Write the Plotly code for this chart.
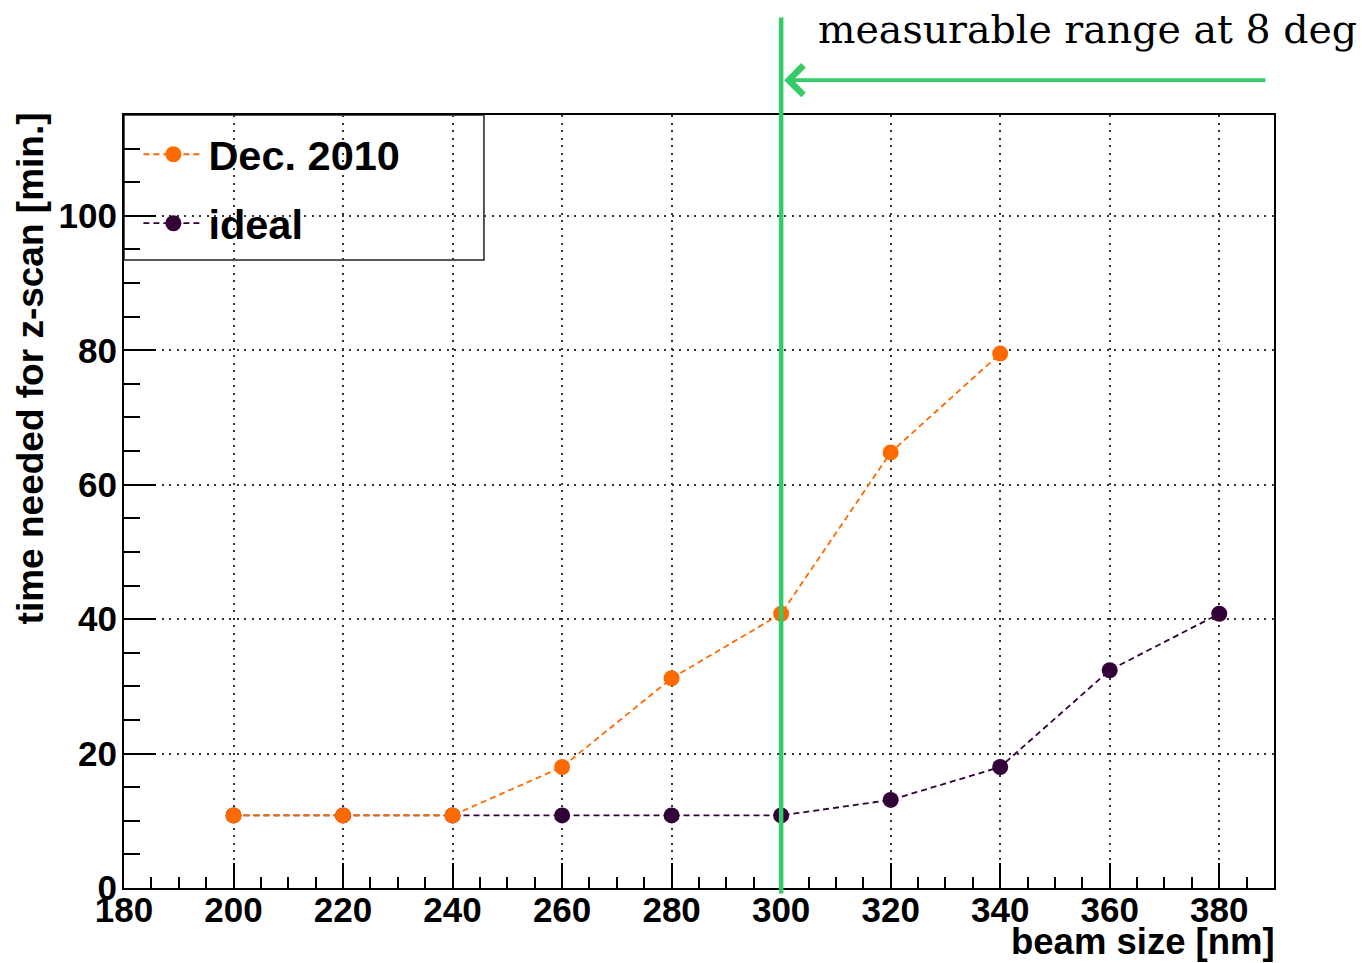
import plotly.graph_objects as go

# beam size scan points [nm]
beam_size_dec = [200, 220, 240, 260, 280, 300, 320, 340]
beam_size_ideal = [200, 220, 240, 260, 280, 300, 320, 340, 360, 380]

# time needed for a z-scan [min.]
time_dec = [10.8, 10.8, 10.8, 18.0, 31.2, 40.8, 64.8, 79.5]
time_ideal = [10.8, 10.8, 10.8, 10.8, 10.8, 10.8, 13.1, 18.0, 32.4, 40.8]

series_names = ["Dec. 2010", "ideal"]
x_ticks = [180, 200, 220, 240, 260, 280, 300, 320, 340, 360, 380]
y_ticks = [0, 20, 40, 60, 80, 100]

# measurable range marker
range_edge = 300
range_arrow_tail = 388.8
range_label = "measurable range at 8 deg"

ORANGE = "#ff6a00"
PURPLE = "#33003a"
GREEN = "#33cc66"
SANS = "Liberation Sans, Arial, sans-serif"

fig = go.Figure()

# "ideal" first so the Dec. 2010 points sit on top where they coincide
fig.add_trace(go.Scatter(
    x=beam_size_ideal, y=time_ideal, name=series_names[1], legendgroup="g2", legendrank=2,
    mode="lines+markers",
    line=dict(color=PURPLE, width=1.8, dash="6px,4px"),
    marker=dict(color=PURPLE, size=16),
))
fig.add_trace(go.Scatter(
    x=beam_size_dec, y=time_dec, name=series_names[0], legendgroup="g1", legendrank=1,
    mode="lines+markers",
    line=dict(color=ORANGE, width=1.8, dash="6px,4px"),
    marker=dict(color=ORANGE, size=16),
))

axis_common = dict(
    showline=True, linecolor="black", linewidth=2, mirror=True,
    ticks="inside", tickcolor="black", tickwidth=1.5,
    showgrid=True, gridcolor="#333333", gridwidth=1.5, griddash="2px,5.5px",
    zeroline=False,
    tickfont=dict(family=SANS, size=35, color="black", weight="bold"),
)

fig.update_xaxes(
    range=[180, 390], tickvals=x_ticks, ticklen=25,
    minor=dict(dtick=5, tick0=180, ticks="inside", ticklen=11, tickcolor="black", tickwidth=1.5, showgrid=False),
    ticklabelstandoff=-10,
    **axis_common,
)
fig.update_yaxes(
    range=[0, 115], tickvals=y_ticks, ticklen=32,
    minor=dict(dtick=5, tick0=0, ticks="inside", ticklen=16, tickcolor="black", tickwidth=1.5, showgrid=False),
    ticklabelstandoff=-2,
    **axis_common,
)

shapes = [
    # legend frame
    dict(type="rect", xref="paper", yref="paper", x0=0, x1=0.313, y0=0.8124, y1=1,
         fillcolor="white", line=dict(color="#222222", width=1.5), layer="between"),
    # measurable range boundary
    dict(type="line", xref="x", yref="paper", x0=range_edge, x1=range_edge,
         y0=-0.007, y1=1.126, line=dict(color=GREEN, width=4.5), layer="above"),
]

annotations = [
    dict(x=range_edge, y=1.045, xref="x", yref="paper",
         ax=range_arrow_tail, ay=0, axref="x", ayref="pixel",
         showarrow=True, arrowhead=4, arrowsize=1.5, arrowwidth=3.8,
         arrowcolor=GREEN, standoff=3, text=" ", font=dict(size=2)),
    dict(x=0.6018, y=1.111, xref="paper", yref="paper", xanchor="left", yanchor="middle",
         text=range_label, showarrow=False,
         font=dict(family="DejaVu Serif, serif", size=39.5, color="black")),
    dict(x=1.003, y=-0.069, xref="paper", yref="paper", xanchor="right", yanchor="middle",
         text="beam size [nm]", showarrow=False,
         font=dict(family=SANS, size=36.5, color="black", weight="bold")),
    dict(x=-0.081, y=0.672, xref="paper", yref="paper", xanchor="center", yanchor="middle",
         text="time needed for z-scan [min.]", textangle=-90, showarrow=False,
         font=dict(family=SANS, size=37, color="black", weight="bold")),
]

fig.update_layout(
    width=1362, height=963,
    margin=dict(l=124, r=88, t=115, b=75),
    paper_bgcolor="white", plot_bgcolor="white",
    shapes=shapes, annotations=annotations,
    showlegend=True,
    legend=dict(
        x=0.0125, y=0.9925, xanchor="left", yanchor="top",
        bgcolor="rgba(0,0,0,0)", borderwidth=0,
        traceorder="grouped", tracegroupgap=12, itemwidth=60,
        font=dict(family=SANS, size=41.5, color="black", weight="bold"),
    ),
)

fig.write_html("out.html")
